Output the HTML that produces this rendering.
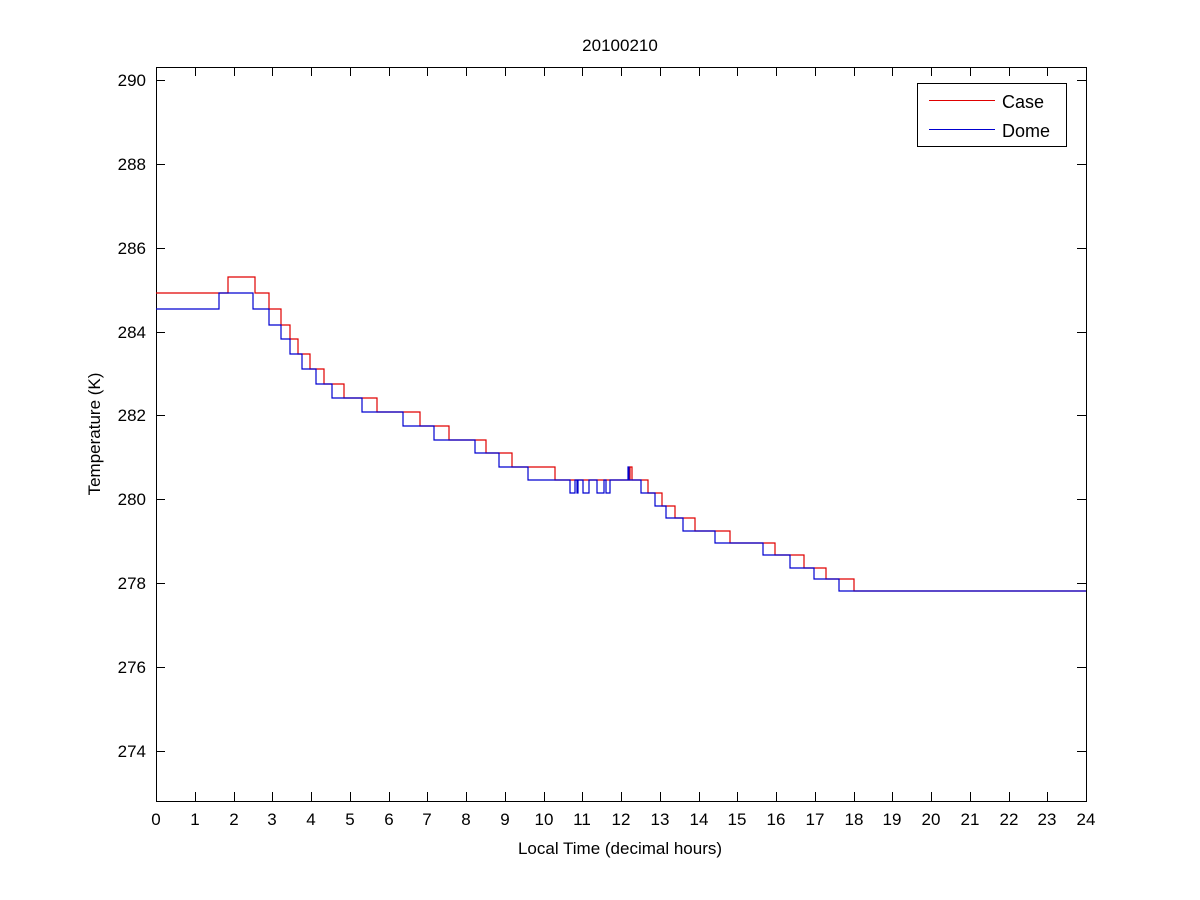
<!DOCTYPE html>
<html><head><style>body{margin:0;background:#fff}svg{display:block}text{font-family:"Liberation Sans",Arial,sans-serif;fill:#000}</style></head>
<body>
<svg width="1200" height="900" viewBox="0 0 1200 900" xmlns="http://www.w3.org/2000/svg">
<rect width="1200" height="900" fill="#fff"/>
<g stroke="#000" stroke-width="1" fill="none">
<rect x="156.5" y="67.5" width="930" height="734"/>
<path id="ticks" d="
M156,80.5h9M1086,80.5h-9
M156,164.5h9M1086,164.5h-9
M156,248.5h9M1086,248.5h-9
M156,332.5h9M1086,332.5h-9
M156,415.5h9M1086,415.5h-9
M156,499.5h9M1086,499.5h-9
M156,583.5h9M1086,583.5h-9
M156,667.5h9M1086,667.5h-9
M156,751.5h9M1086,751.5h-9
"/>
<path d="
M195.5,801v-9M195.5,67v9
M234.5,801v-9M234.5,67v9
M272.5,801v-9M272.5,67v9
M311.5,801v-9M311.5,67v9
M350.5,801v-9M350.5,67v9
M389.5,801v-9M389.5,67v9
M427.5,801v-9M427.5,67v9
M466.5,801v-9M466.5,67v9
M505.5,801v-9M505.5,67v9
M544.5,801v-9M544.5,67v9
M582.5,801v-9M582.5,67v9
M621.5,801v-9M621.5,67v9
M660.5,801v-9M660.5,67v9
M699.5,801v-9M699.5,67v9
M737.5,801v-9M737.5,67v9
M776.5,801v-9M776.5,67v9
M815.5,801v-9M815.5,67v9
M854.5,801v-9M854.5,67v9
M892.5,801v-9M892.5,67v9
M931.5,801v-9M931.5,67v9
M970.5,801v-9M970.5,67v9
M1009.5,801v-9M1009.5,67v9
M1047.5,801v-9M1047.5,67v9
"/>
</g>
<g font-size="17" text-anchor="end">
<text x="146" y="86">290</text><text x="146" y="170">288</text><text x="146" y="254">286</text><text x="146" y="338">284</text><text x="146" y="421">282</text><text x="146" y="505">280</text><text x="146" y="589">278</text><text x="146" y="673">276</text><text x="146" y="757">274</text>
</g>
<g font-size="17" text-anchor="middle">
<text x="156" y="825">0</text><text x="195" y="825">1</text><text x="234" y="825">2</text><text x="272" y="825">3</text><text x="311" y="825">4</text><text x="350" y="825">5</text><text x="389" y="825">6</text><text x="427" y="825">7</text><text x="466" y="825">8</text><text x="505" y="825">9</text><text x="544" y="825">10</text><text x="582" y="825">11</text><text x="621" y="825">12</text><text x="660" y="825">13</text><text x="699" y="825">14</text><text x="737" y="825">15</text><text x="776" y="825">16</text><text x="815" y="825">17</text><text x="854" y="825">18</text><text x="892" y="825">19</text><text x="931" y="825">20</text><text x="970" y="825">21</text><text x="1009" y="825">22</text><text x="1047" y="825">23</text><text x="1086" y="825">24</text>
<text x="620" y="854">Local Time (decimal hours)</text>
<text x="620" y="51">20100210</text>
<text transform="translate(100,434) rotate(-90)">Temperature (K)</text>
</g>
<path fill="none" stroke="#e00000" stroke-width="1.2" d="M156,293 H228 V277 H255 V293 H269 V309 H281 V325 H290 V339 H298 V354 H310 V369 H324 V384 H344 V398 H377 V412 H420 V426 H449 V440 H486 V453 H512 V467 H555 V480 H630 V467 H632 V480 H648 V493 H662 V506 H675 V518 H695 V531 H730 V543 H775 V555 H804 V568 H826 V579 H854 V591 H1086"/>
<path fill="none" stroke="#0000d0" stroke-width="1.2" d="M156,309 H219 V293 H253 V309 H269 V325 H281 V339 H290 V354 H302 V369 H316 V384 H332 V398 H362 V412 H403 V426 H434 V440 H475 V453 H499 V467 H528 V480 H570 V493 H575 V480 H577 V493 H578 V480 H583 V493 H589 V480 H597 V493 H604 V480 H606 V493 H610 V480 H628 V467 H629 V480 H641 V493 H655 V506 H666 V518 H683 V531 H715 V543 H763 V555 H790 V568 H814 V579 H839 V591 H1086"/>
<rect x="917.5" y="83.5" width="149" height="63" fill="#fff" stroke="#000"/>
<line x1="929" y1="100.5" x2="995" y2="100.5" stroke="#e00000"/>
<line x1="929" y1="129.5" x2="995" y2="129.5" stroke="#0000d0"/>
<text x="1002" y="108" font-size="18">Case</text>
<text x="1002" y="137" font-size="18">Dome</text>
</svg>
</body></html>
